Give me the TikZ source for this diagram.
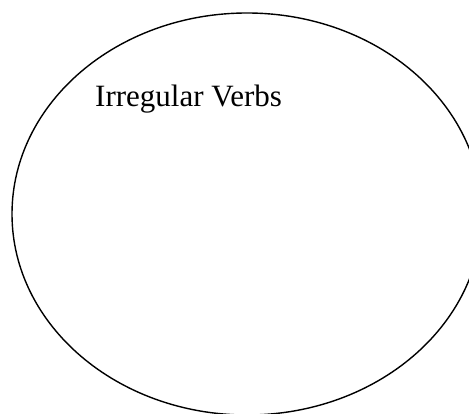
\documentclass[tikz,border=0pt]{standalone}
\usepackage{fontspec}
\setmainfont{Liberation Serif}
\begin{document}
\begin{tikzpicture}[x=1pt,y=-1pt,
  outline/.style={draw=black,line width=1.4pt},
  label/.style={font=\fontsize{31}{36}\selectfont,anchor=base west,inner sep=0pt}]
\useasboundingbox (0,0) rectangle (469,414);
\fill[white] (0,0) rectangle (469,414);
\begin{scope}
\clip (0,0) rectangle (469,414);
\draw[outline] (247,214) ellipse [x radius=235, y radius=201];
\end{scope}
\node[label] (title) at (95,107) {Irregular Verbs};
\end{tikzpicture}
\end{document}
